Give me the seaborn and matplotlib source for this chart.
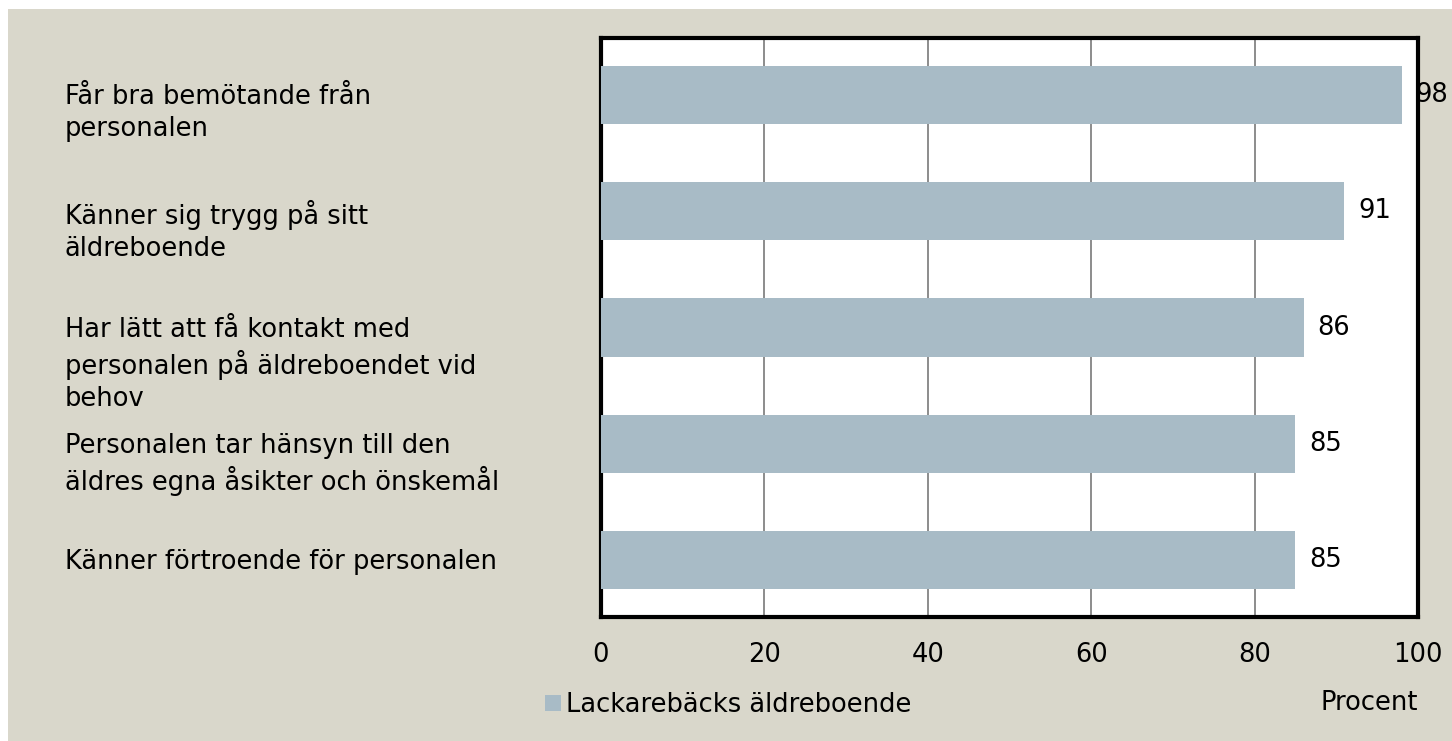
import matplotlib
matplotlib.use('Agg')
import matplotlib.pyplot as plt
import matplotlib.transforms as mtransforms
from matplotlib.patches import Rectangle
import seaborn as sns

# data
categories = [
    'Får bra bemötande från\npersonalen',
    'Känner sig trygg på sitt\näldreboende',
    'Har lätt att få kontakt med\npersonalen på äldreboendet vid\nbehov',
    'Personalen tar hänsyn till den\näldres egna åsikter och önskemål',
    'Känner förtroende för personalen',
]
values = [98, 91, 86, 85, 85]
series_name = 'Lackarebäcks äldreboende'
xticks = [0, 20, 40, 60, 80, 100]

bg = '#D9D7CB'
bar_color = '#A8BBC6'

sns.set_style('white')
plt.rcParams['font.family'] = ['DejaVu Sans']
plt.rcParams['text.color'] = 'black'
plt.rcParams['axes.labelcolor'] = 'black'
fs = 18.5

fig = plt.figure(figsize=(14.52, 7.41), dpi=100)
fig.patch.set_facecolor('white')
fig.patches.append(Rectangle((8 / 1452, 0), 1 - 8 / 1452, 1 - 9 / 741,
                             transform=fig.transFigure, facecolor=bg,
                             edgecolor='none', zorder=-10))

ax = fig.add_axes([601 / 1452, 1 - 617 / 741, (1418 - 601) / 1452, (617 - 38) / 741])
ax.set_facecolor('white')

sns.barplot(x=values, y=list(range(len(categories))), orient='h', color=bar_color,
            width=0.5, saturation=1, linewidth=0, ax=ax, label=series_name, zorder=3)

ax.set_xlim(0, 100)
ax.set_ylim(len(categories) - 0.51, -0.49)
ax.set_xticks(xticks)
ax.set_xticklabels([str(t) for t in xticks], fontsize=fs)
ax.tick_params(axis='x', length=0, pad=18, colors='black', labelcolor='black')
ax.set_yticks([])
ax.set_ylabel('')
ax.grid(axis='x', color='#8C8C8C', linewidth=1.4, zorder=0)
ax.set_axisbelow(True)
for s in ax.spines.values():
    s.set_visible(True)
    s.set_color('black')
    s.set_linewidth(3)

ax.bar_label(ax.containers[0], padding=10, fontsize=fs, color='black')

# category labels, left aligned on the beige margin
trans = mtransforms.blended_transform_factory(fig.transFigure, ax.transData)
trans = mtransforms.offset_copy(trans, fig=fig, x=0, y=11, units='dots')
for i, lab in enumerate(categories):
    ax.text(65 / 1452, i, lab, transform=trans, ha='left', va='top',
            fontsize=fs, linespacing=1.3, color='black', clip_on=False)

ax.set_xlabel('Procent', fontsize=fs, loc='right', labelpad=16, color='black')

ax.legend(loc='center left', bbox_to_anchor=(522 / 1452, 1 - 705 / 741),
          bbox_transform=fig.transFigure, frameon=False, fontsize=fs,
          handlelength=0.6, handleheight=0.6, handletextpad=0.2,
          labelcolor='black')

fig.savefig('out.png', dpi=100, facecolor=fig.get_facecolor())
